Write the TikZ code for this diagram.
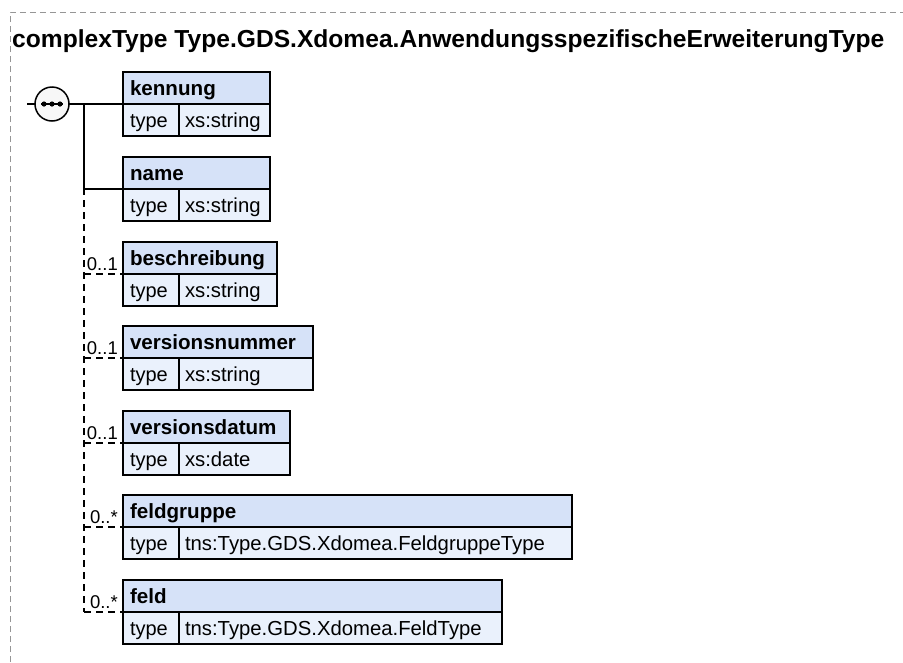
\documentclass[tikz,border=0pt]{standalone}
\usepackage{fontspec}
\setmainfont{Liberation Sans}
\usetikzlibrary{positioning,calc}

\definecolor{headblue}{RGB}{214,226,248}
\definecolor{rowblue}{RGB}{234,241,252}
\definecolor{framegray}{RGB}{150,150,150}

\begin{document}
\begin{tikzpicture}[x=1pt, y=-1pt,
    frame/.style={draw=framegray, line width=1pt, dash pattern=on 6pt off 4pt},
    title/.style={anchor=base west, inner sep=0pt, font=\bfseries\fontsize{24.6}{28}\selectfont},
    head/.style={draw, line width=1.5pt, fill=headblue, anchor=north west, outer sep=0pt, minimum height=32pt, inner xsep=7pt, inner ysep=0pt, text height=16pt, text depth=2pt, align=left, text width=#1, font=\bfseries\fontsize{20.6}{24}\selectfont},
    typekey/.style={draw, line width=1.5pt, fill=rowblue, anchor=north west, outer sep=0pt, minimum height=32pt, inner xsep=7pt, inner ysep=0pt, text height=16pt, text depth=2pt, align=left, text width=42pt, font=\fontsize{20}{24}\selectfont},
    typeval/.style={draw, line width=1.5pt, fill=rowblue, anchor=north west, outer sep=0pt, minimum height=32pt, inner xsep=6pt, inner ysep=0pt, text height=16pt, text depth=2pt, align=left, text width=#1, font=\fontsize{20.3}{24}\selectfont},
    seqcircle/.style={circle, draw, line width=1.5pt, fill=black!3, minimum size=34pt, inner sep=0pt, outer sep=0pt},
    conn/.style={line width=1.5pt},
    opt/.style={line width=1.5pt, dash pattern=on 7pt off 5pt},
    mult/.style={anchor=base east, inner sep=0pt, font=\fontsize{18.5}{22}\selectfont}
]
\useasboundingbox (0,0) rectangle (903,662);

% Frame and title
\draw[frame] (10,662) -- (10,12) -- (903,12);
\node[title] (title) at (12,47) {complexType Type.GDS.Xdomea.AnwendungsspezifischeErweiterungType};

% Sequence compositor
\node[seqcircle] (seq) at (52,104) {};
\draw[line width=1.5pt] ($(seq.center)+(-11,0)$) -- ($(seq.center)+(11,0)$);
\fill ($(seq.center)+(-8,0)$) circle (2.6pt);
\fill (seq.center) circle (2.6pt);
\fill ($(seq.center)+(8,0)$) circle (2.6pt);

% Elements
\node[head=133pt] (kennung) at (123,72) {kennung};
\node[typekey] (kennungk) at (kennung.south west) {type};
\node[typeval=79pt] (kennungv) at (kennungk.north east) {xs:string};

\node[head=133pt] (name) at (123,157) {name};
\node[typekey] (namek) at (name.south west) {type};
\node[typeval=79pt] (namev) at (namek.north east) {xs:string};

\node[head=140pt] (beschreibung) at (123,242) {beschreibung};
\node[typekey] (beschreibungk) at (beschreibung.south west) {type};
\node[typeval=86pt] (beschreibungv) at (beschreibungk.north east) {xs:string};

\node[head=176pt] (versionsnummer) at (123,326) {versionsnummer};
\node[typekey] (versionsnummerk) at (versionsnummer.south west) {type};
\node[typeval=122pt] (versionsnummerv) at (versionsnummerk.north east) {xs:string};

\node[head=153pt] (versionsdatum) at (123,411) {versionsdatum};
\node[typekey] (versionsdatumk) at (versionsdatum.south west) {type};
\node[typeval=99pt] (versionsdatumv) at (versionsdatumk.north east) {xs:date};

\node[head=435pt] (feldgruppe) at (123,495) {feldgruppe};
\node[typekey] (feldgruppek) at (feldgruppe.south west) {type};
\node[typeval=381pt] (feldgruppev) at (feldgruppek.north east) {tns:Type.GDS.Xdomea.FeldgruppeType};

\node[head=365pt] (feld) at (123,580) {feld};
\node[typekey] (feldk) at (feld.south west) {type};
\node[typeval=311pt] (feldv) at (feldk.north east) {tns:Type.GDS.Xdomea.FeldType};

% Required connectors
\coordinate (entry) at (27,104);
\coordinate (trunk) at (84,104);
\coordinate (fork) at (84,188);
\draw[conn] (entry) -- (seq.west);
\draw[conn] (seq.east) -- (kennung.south west);
\draw[conn] (trunk) |- (name.south west);

% Optional connectors
\draw[opt] (fork) -- (fork |- feld.south west);
\draw[opt] (fork |- beschreibung.south west) -- (beschreibung.south west);
\draw[opt] (fork |- versionsnummer.south west) -- (versionsnummer.south west);
\draw[opt] (fork |- versionsdatum.south west) -- (versionsdatum.south west);
\draw[opt] (fork |- feldgruppe.south west) -- (feldgruppe.south west);
\draw[opt] (fork |- feld.south west) -- (feld.south west);

% Multiplicities
\node[mult] (m1) at ($(beschreibung.south west)+(-5,-4)$) {0..1};
\node[mult] (m2) at ($(versionsnummer.south west)+(-5,-4)$) {0..1};
\node[mult] (m3) at ($(versionsdatum.south west)+(-5,-4)$) {0..1};
\node[mult] (m4) at ($(feldgruppe.south west)+(-5,-4)$) {0..*};
\node[mult] (m5) at ($(feld.south west)+(-5,-4)$) {0..*};

\end{tikzpicture}
\end{document}
